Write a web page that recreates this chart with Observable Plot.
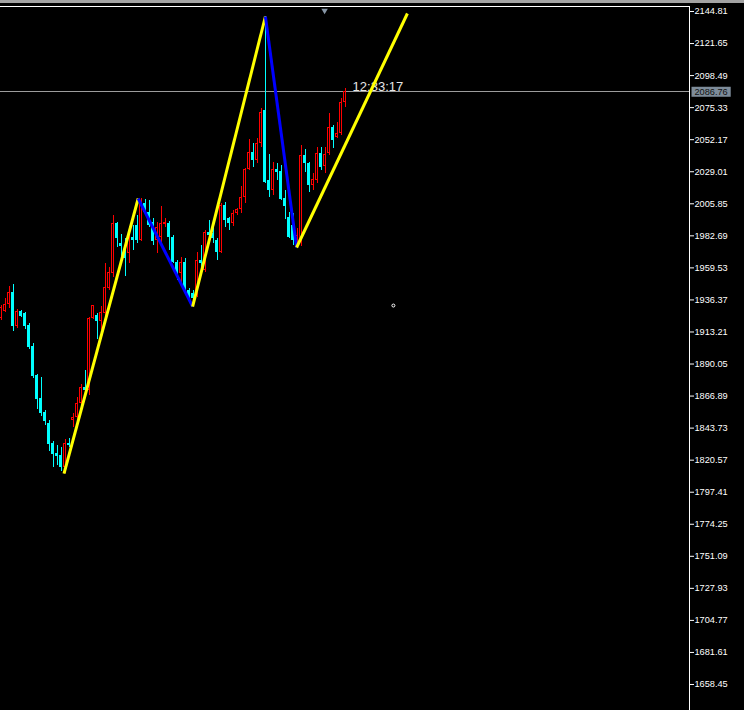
<!DOCTYPE html>
<html><head><meta charset="utf-8">
<script src="https://cdn.jsdelivr.net/npm/d3@7"></script>
<script src="https://cdn.jsdelivr.net/npm/@observablehq/plot@0.6"></script>
<style>
html,body{margin:0;padding:0;background:#000;width:744px;height:710px;overflow:hidden}
#band{height:3px;background:#a3a3a3}
#chart svg{display:block}
</style></head><body>
<div id="band"></div>
<div id="chart"></div>
<script>
// OHLC per bar (bar index = position in arrays)
const opens = [1922.94,1928.00,1933.06,1941.73,1917.16,1928.00,1926.55,1917.88,1902.71,1881.75,
1865.13,1855.01,1847.06,1832.60,1825.38,1823.93,1815.26,1832.60,1849.23,1851.39,
1861.51,1873.08,1870.91,1922.94,1925.11,1920.77,1926.55,1944.62,1955.46,1991.60,
1977.14,1970.64,1969.92,1981.48,1990.15,1979.31,2006.05,1999.55,1992.32,1979.31,
1981.48,1990.88,1991.60,1981.48,1963.41,1955.46,1963.41,1943.18,1941.01,1939.56,
1964.86,1957.63,1985.09,1984.37,1979.31,1970.64,2004.61,1995.21,1991.60,1998.82,
2001.72,2010.39,2030.62,2042.91,2037.13,2049.41,2073.26,2022.67,2015.45,2030.62,
2029.18,2009.67,1995.93,1990.15,1977.87,1979.31,2040.74,2034.96,2019.06,2022.67,
2042.19,2032.79,2042.19,2060.98,2053.75,2056.64,2079.04];
const highs = [1932.34,1937.40,1946.07,1947.51,1929.45,1928.72,1927.28,1919.33,1904.87,1882.47,
1880.30,1856.45,1849.23,1834.05,1831.16,1829.71,1835.49,1836.22,1854.28,1865.85,
1875.24,1885.36,1923.66,1932.34,1926.55,1931.61,1962.69,1959.80,1997.38,1992.32,
1983.65,1980.76,1989.43,1990.15,1997.38,2009.67,2008.94,2008.22,1995.21,1992.32,
2003.88,1995.21,1993.04,1982.93,1964.86,1967.03,1966.30,1944.62,1943.18,1970.64,
1975.70,1986.54,1993.77,1991.60,1980.76,2006.05,2006.77,1995.93,2000.99,2002.44,
2018.34,2031.35,2052.30,2049.41,2053.03,2074.71,2141.50,2041.46,2035.68,2034.96,
2033.51,2015.45,1999.55,1998.82,1987.98,2047.97,2045.08,2035.68,2027.73,2046.52,
2046.52,2046.52,2071.09,2062.42,2064.59,2081.94,2089.16];
const lows = [1921.50,1927.28,1930.17,1913.55,1915.71,1923.66,1914.99,1900.54,1879.58,1857.18,
1852.12,1845.61,1826.82,1815.26,1816.70,1812.37,1810.92,1829.71,1844.17,1845.61,
1860.07,1869.46,1867.29,1922.22,1907.76,1914.27,1923.66,1943.18,1952.57,1974.25,
1967.03,1953.29,1962.69,1972.08,1977.14,1978.59,1997.38,1988.71,1975.70,1969.92,
1974.25,1988.71,1972.08,1962.69,1950.40,1948.96,1941.73,1936.67,1931.61,1938.12,
1957.63,1956.19,1980.76,1977.14,1964.86,1969.92,1988.71,1986.54,1989.43,1997.38,
1998.82,2006.05,2029.90,2032.07,2034.96,2046.52,2020.51,2010.39,2011.83,2022.67,
2008.22,1994.49,1980.76,1975.70,1974.25,1974.98,2028.46,2014.00,2015.45,2020.51,
2029.90,2027.73,2040.74,2045.80,2053.03,2055.20,2075.43];
const closes = [1930.89,1933.06,1941.73,1917.16,1928.00,1924.39,1917.16,1901.98,1881.02,1864.40,
1854.28,1848.50,1831.88,1824.65,1823.21,1815.26,1832.60,1831.16,1851.39,1861.51,
1873.08,1870.91,1922.94,1932.34,1920.77,1927.28,1945.35,1956.19,1991.60,1980.76,
1974.98,1966.30,1982.93,1979.31,1979.31,2006.05,1999.55,1990.15,1978.59,1988.71,
1991.60,1992.32,1981.48,1963.41,1955.46,1963.41,1943.18,1938.12,1937.40,1964.86,
1962.69,1985.09,1982.93,1980.76,1970.64,2004.61,1993.77,1991.60,1998.82,2001.72,
2010.39,2030.62,2042.91,2037.13,2049.41,2071.82,2021.23,2015.45,2030.62,2028.46,
2008.94,2003.88,1981.48,1979.31,1982.93,2040.74,2034.96,2019.06,2023.40,2042.19,
2032.07,2041.46,2060.98,2051.58,2056.64,2079.04,2086.76];

// price axis tick labels
const yTicks = [2144.81,2121.65,2098.49,2075.33,2052.17,2029.01,2005.85,1982.69,1959.53,1936.37,1913.21,
1890.05,1866.89,1843.73,1820.57,1797.41,1774.25,1751.09,1727.93,1704.77,1681.61,1658.45];

// zigzag vertices (bar index, price) and leg colours
const zigIndex = [15.75, 34.3, 47.9, 66.1, 73.9, 101.6];
const zigPrice = [1810.92, 2009.67, 1931.61, 2141.20, 1974.25, 2143.36];
const zigColors = ["#ffff00", "#0000ff", "#ffff00", "#0000ff", "#ffff00"];

const lastPrice = 2086.76;
const timeLabel = "12:33:17";
const timeLabelIndex = 87.9;
const shiftIndex = 80.9;
const cursorIndex = [98.1];
const cursorPrice = [1932.3];

const candles = opens.map((o, i) => ({i, open: o, high: highs[i], low: lows[i], close: closes[i], up: closes[i] >= o}));
const upC = candles.filter(d => d.up), dnC = candles.filter(d => !d.up);
const legs = zigColors.map((c, k) => ({x1: zigIndex[k], y1: zigPrice[k], x2: zigIndex[k + 1], y2: zigPrice[k + 1], color: c}));
const cursor = cursorIndex.map((x, k) => ({x, y: cursorPrice[k]}));

const plot = Plot.plot({
  width: 744, height: 707,
  marginLeft: 0, marginRight: 55, marginTop: 3, marginBottom: 0,
  style: {background: "#000", color: "#fff", fontFamily: "'Liberation Sans', Arial, sans-serif", overflow: "visible"},
  x: {domain: [-0.125, 172.125], axis: null},
  y: {domain: [1639.66, 2148.42], axis: null},
  marks: [
    Plot.ruleY([lastPrice], {y: d => d, stroke: "#9c9c9c", strokeWidth: 1, shapeRendering: "crispEdges"}),
    Plot.ruleX(dnC, {x: "i", y1: "low", y2: "high", stroke: "#00ffff", strokeWidth: 1, shapeRendering: "crispEdges"}),
    Plot.ruleX(upC, {x: "i", y1: "low", y2: "high", stroke: "#ff0000", strokeWidth: 1, shapeRendering: "crispEdges"}),
    Plot.rect(dnC, {x1: d => d.i - 0.375, x2: d => d.i + 0.375, y1: "open", y2: "close", fill: "#00ffff", shapeRendering: "crispEdges"}),
    // bull bodies are hollow: red body with a 1px black core
    Plot.rect(upC, {x1: d => d.i - 0.375, x2: d => d.i + 0.375, y1: "open", y2: "close", fill: "#ff0000", shapeRendering: "crispEdges"}),
    Plot.rect(upC, {x1: d => d.i - 0.125, x2: d => d.i + 0.125, y1: "open", y2: "close", insetTop: 1, insetBottom: 1, fill: "#000", shapeRendering: "crispEdges"}),
    Plot.text([timeLabel], {x: timeLabelIndex, y: lastPrice, text: d => d, textAnchor: "start", lineAnchor: "bottom", dy: -1, fill: "#e6e6e6", fontSize: 13}),
    Plot.link(legs, {x1: "x1", y1: "y1", x2: "x2", y2: "y2", stroke: d => d.color, strokeWidth: 3}),
    Plot.dot(cursor, {x: "x", y: "y", r: 1.5, stroke: "#fff", fill: "none", strokeWidth: 1}),
    Plot.dot([shiftIndex], {x: d => d, frameAnchor: "top", dy: 4, symbol: "triangle", rotate: 180, r: 2.4, fill: "#8796a6", stroke: "none"}),
    Plot.frame({anchor: "top", stroke: "#fff"}),
    Plot.frame({anchor: "right", stroke: "#fff"}),
    Plot.axisY(yTicks, {anchor: "right", tickSize: 4, tickPadding: 1, tickFormat: d => d.toFixed(2), fontSize: 9.2, stroke: "#fff", fill: "#fff"}),
    Plot.text([lastPrice], {frameAnchor: "right", y: d => d, text: d => d.toFixed(2), dx: 5, textAnchor: "start", fill: "#111", fontSize: 9.2})
  ]
});
document.getElementById("chart").append(plot);

// grey background box behind the current-price label
const labelText = lastPrice.toFixed(2);
d3.select(plot).selectAll("text").filter(function () { return this.textContent === labelText; }).each(function () {
  const bb = this.getBBox();
  const r = document.createElementNS("http://www.w3.org/2000/svg", "rect");
  r.setAttribute("x", bb.x - 3);
  r.setAttribute("y", bb.y);
  r.setAttribute("width", bb.width + 6);
  r.setAttribute("height", bb.height);
  r.setAttribute("fill", "#7d8b99");
  const t = this.getAttribute("transform");
  if (t) r.setAttribute("transform", t);
  this.parentNode.insertBefore(r, this);
});
</script>
</body></html>
